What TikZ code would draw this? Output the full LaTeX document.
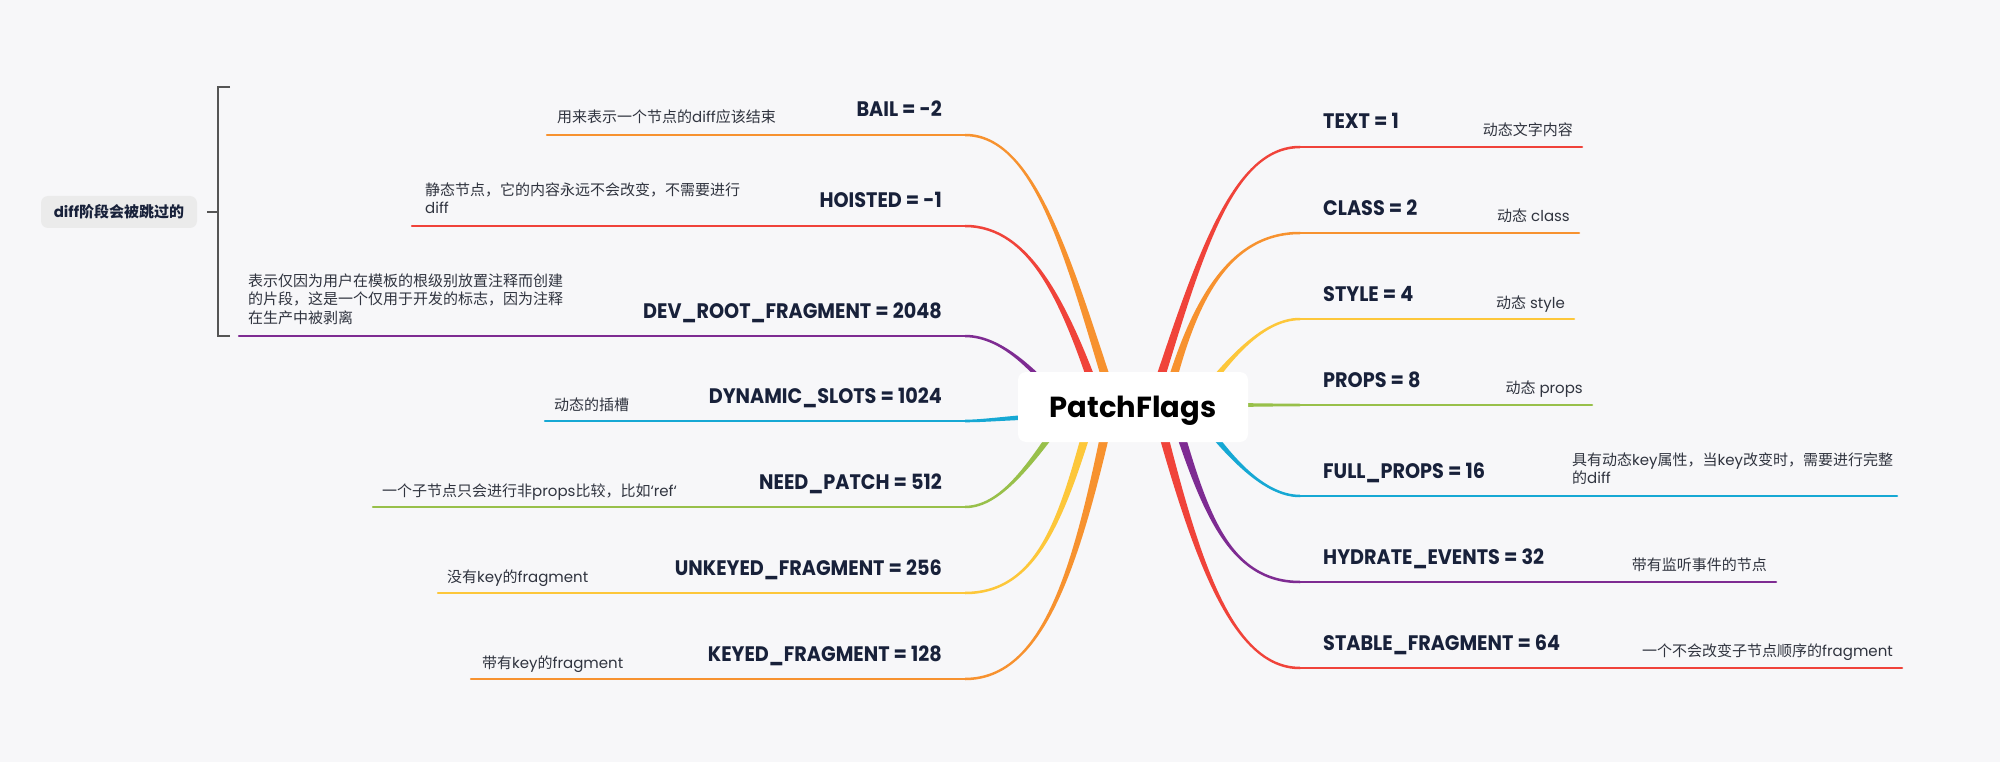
\documentclass[tikz,border=0pt]{standalone}
\usepackage{fontspec}
\setmainfont{Poppins}
\newfontfamily\lblfont{Poppins}[FakeStretch=0.915]
\newfontfamily\zhfont{Noto Sans CJK SC}
\newcommand\z[1]{{\zhfont #1}}
\definecolor{bg}{HTML}{F7F7F9}
\definecolor{lblc}{HTML}{18213A}
\definecolor{descc}{HTML}{30343F}
\definecolor{cred}{HTML}{F0433A}
\definecolor{corange}{HTML}{F7922F}
\definecolor{cyellow}{HTML}{FDC73A}
\definecolor{cgreen}{HTML}{98C04A}
\definecolor{cblue}{HTML}{16A8D4}
\definecolor{cpurple}{HTML}{7E2B92}
\definecolor{brc}{HTML}{555555}
\definecolor{skipfill}{HTML}{EBEBEB}
% tapered curve: #1 colour, #2 sign, S=(#3,#4), c1=(#5,#6), c2=(#7,#9), E=(#8,#9)
\newcommand\taper[9]{%
  \fill[#1] ({#3-(#2)*5},#4) .. controls ({#5-(#2)*3},#6) and (#7,{#9-1.5}) .. (#8,{#9-1.25})
    -- (#8,{#9+1.25}) .. controls (#7,{#9+1.5}) and ({#5+(#2)*3},#6) .. ({#3+(#2)*5},#4) -- cycle;}
\newcommand\taperh[9]{%
  \fill[#1] (#3,{#4-4}) .. controls (#5,{#6-2.5}) and (#7,{#9-1.5}) .. (#8,{#9-1.25})
    -- (#8,{#9+1.25}) .. controls (#7,{#9+1.5}) and (#5,{#6+2.5}) .. (#3,{#4+4}) -- cycle;}
\begin{document}
\begin{tikzpicture}[x=1pt,y=-1pt,
  lbl/.style={font=\fontsize{21}{25}\lblfont\bfseries, text=lblc, inner sep=0pt},
  desc/.style={font=\fontsize{15}{18.5}\selectfont, text=descc, inner sep=0pt, align=left},
  hline/.style={line width=2.5pt, line cap=round},
  bracket/.style={draw=brc, line width=2.2pt},
  rootbox/.style={fill=white, rounded corners=8pt, minimum width=230pt, minimum height=70pt,
    inner sep=0pt, font=\fontsize{29}{33}\selectfont\bfseries, text=black, text height=20pt, text depth=0pt},
  skipbox/.style={fill=skipfill, rounded corners=7pt, minimum width=156pt, minimum height=32pt,
    inner sep=0pt, font=\fontsize{15}{18}\selectfont\bfseries, text=lblc}]
\fill[bg] (0,0) rectangle (2000,762);
\useasboundingbox (0,0) rectangle (2000,762);

% ---------- right branch end points ----------
\coordinate (eText) at (1300,147);   \coordinate (fText) at (1582,147);
\coordinate (eClass) at (1300,233);  \coordinate (fClass) at (1579,233);
\coordinate (eStyle) at (1300,319);  \coordinate (fStyle) at (1574,319);
\coordinate (eProps) at (1300,405);  \coordinate (fProps) at (1592,405);
\coordinate (eFull) at (1300,496);   \coordinate (fFull) at (1897,496);
\coordinate (eHyd) at (1300,582);    \coordinate (fHyd) at (1776,582);
\coordinate (eStab) at (1300,668);   \coordinate (fStab) at (1902,668);
% ---------- left branch end points ----------
\coordinate (eBail) at (965,135);    \coordinate (fBail) at (547,135);
\coordinate (eHoist) at (965,226);   \coordinate (fHoist) at (412,226);
\coordinate (eDev) at (965,336);     \coordinate (fDev) at (239,336);
\coordinate (eDyn) at (965,421);     \coordinate (fDyn) at (545,421);
\coordinate (eNeed) at (965,507);    \coordinate (fNeed) at (373,507);
\coordinate (eUnk) at (965,593);     \coordinate (fUnk) at (438,593);
\coordinate (eKey) at (965,679);     \coordinate (fKey) at (471,679);

% ---------- curves (right) ----------
\taper{cred}{1}{1151}{407}{1197}{264}{1230}{1300}{147}
\taper{corange}{1}{1165}{407}{1190}{309}{1225}{1300}{233}
\taper{cyellow}{1}{1193}{407}{1223}{366}{1260}{1300}{319}
\taperh{cgreen}{0}{1133}{405}{1200}{405}{1260}{1300}{405}
\taper{cblue}{-1}{1192}{407}{1222}{448}{1260}{1300}{496}
\taper{cpurple}{-1}{1172}{407}{1202}{503}{1225}{1300}{582}
\taper{cred}{-1}{1156}{407}{1194}{552}{1230}{1300}{668}
% ---------- curves (left) ----------
\taper{corange}{-1}{1115}{407}{1069}{262}{1036}{965}{135}
\taper{cred}{-1}{1101}{407}{1066}{305}{1031}{965}{226}
\taper{cpurple}{-1}{1066}{407}{1038}{375}{1004}{965}{336}
\taperh{cblue}{0}{1100}{414}{1020}{416}{990}{965}{421}
\taper{cgreen}{1}{1071}{407}{1036}{455}{1004}{965}{507}
\taper{cyellow}{1}{1094}{407}{1064}{510}{1041}{965}{593}
\taper{corange}{1}{1111}{407}{1078}{560}{1046}{965}{679}

% ---------- horizontal lines ----------
\draw[hline, cred] (eText) -- (fText);
\draw[hline, corange] (eClass) -- (fClass);
\draw[hline, cyellow] (eStyle) -- (fStyle);
\draw[hline, cgreen] (eProps) -- (fProps);
\draw[hline, cblue] (eFull) -- (fFull);
\draw[hline, cpurple] (eHyd) -- (fHyd);
\draw[hline, cred] (eStab) -- (fStab);
\draw[hline, corange] (eBail) -- (fBail);
\draw[hline, cred] (eHoist) -- (fHoist);
\draw[hline, cpurple] (eDev) -- (fDev);
\draw[hline, cblue] (eDyn) -- (fDyn);
\draw[hline, cgreen] (eNeed) -- (fNeed);
\draw[hline, cyellow] (eUnk) -- (fUnk);
\draw[hline, corange] (eKey) -- (fKey);

% ---------- root ----------
\node[rootbox] (root) at (1133,407) {PatchFlags};

% ---------- right labels ----------
\node[lbl, anchor=base west] (lText) at (1323,129) {TEXT = 1};
\node[lbl, anchor=base west] (lClass) at (1323,215) {CLASS = 2};
\node[lbl, anchor=base west] (lStyle) at (1323,301) {STYLE = 4};
\node[lbl, anchor=base west] (lProps) at (1323,387) {PROPS = 8};
\node[lbl, anchor=base west] (lFull) at (1323,478) {FULL\_PROPS = 16};
\node[lbl, anchor=base west] (lHyd) at (1323,564) {HYDRATE\_EVENTS = 32};
\node[lbl, anchor=base west] (lStab) at (1323,650) {STABLE\_FRAGMENT = 64};
\node[desc, anchor=base east] (dText) at (1573,136) {\z{动态文字内容}};
\node[desc, anchor=base east] (dClass) at (1570,222) {\z{动态} class};
\node[desc, anchor=base east] (dStyle) at (1565,308) {\z{动态} style};
\node[desc, anchor=base east] (dProps) at (1583,393) {\z{动态} props};
\node[desc, anchor=south west] (dFull) at (1572,485) {\z{具有动态}key\z{属性，当}key\z{改变时，需要进行完整}\\\z{的}diff};
\node[desc, anchor=base east] (dHyd) at (1767,570) {\z{带有监听事件的节点}};
\node[desc, anchor=base east] (dStab) at (1893,656) {\z{一个不会改变子节点顺序的}fragment};

% ---------- left labels ----------
\node[lbl, anchor=base east] (lBail) at (942,117) {BAIL = -2};
\node[lbl, anchor=base east] (lHoist) at (942,208) {HOISTED = -1};
\node[lbl, anchor=base east] (lDev) at (942,318) {DEV\_ROOT\_FRAGMENT = 2048};
\node[lbl, anchor=base east] (lDyn) at (942,403) {DYNAMIC\_SLOTS = 1024};
\node[lbl, anchor=base east] (lNeed) at (942,489) {NEED\_PATCH = 512};
\node[lbl, anchor=base east] (lUnk) at (942,575) {UNKEYED\_FRAGMENT = 256};
\node[lbl, anchor=base east] (lKey) at (942,661) {KEYED\_FRAGMENT = 128};
\node[desc, anchor=base west] (dBail) at (557,123) {\z{用来表示一个节点的}diff\z{应该结束}};
\node[desc, anchor=south west] (dHoist) at (425,214) {\z{静态节点，它的内容永远不会改变，不需要进行}\\diff};
\node[desc, anchor=south west] (dDev) at (248,325) {\z{表示仅因为用户在模板的根级别放置注释而创建}\\\z{的片段，这是一个仅用于开发的标志，因为注释}\\\z{在生产中被剥离}};
\node[desc, anchor=base west] (dDyn) at (554,410) {\z{动态的插槽}};
\node[desc, anchor=base west] (dNeed) at (382,496) {\z{一个子节点只会进行非}props\z{比较，比如}\symbol{96}ref\symbol{96}};
\node[desc, anchor=base west] (dUnk) at (447,582) {\z{没有}key\z{的}fragment};
\node[desc, anchor=base west] (dKey) at (482,668) {\z{带有}key\z{的}fragment};

% ---------- summary bracket ----------
\coordinate (brTop) at (230,87);
\coordinate (brBot) at (230,336);
\coordinate (brMid) at (218,212);
\coordinate (brOut) at (207,212);
\draw[bracket] (brTop) -- ++(-12,0) |- (brBot);
\draw[bracket] (brOut) -- (brMid);
\node[skipbox] (skip) at (119,212) {diff\z{阶段会被跳过的}};
\end{tikzpicture}
\end{document}
